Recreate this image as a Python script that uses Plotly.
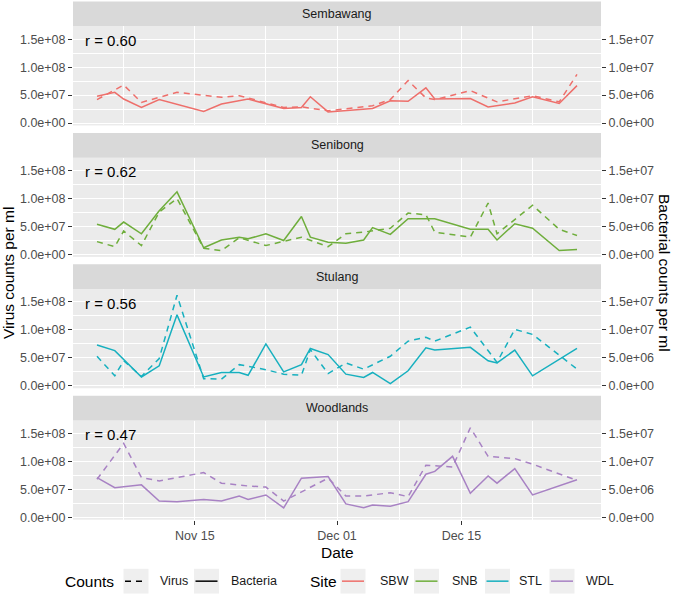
import plotly.graph_objects as go

W, H = 673, 606
YEAR = "2023"

# ---------------- data ----------------
sites = ["SBW", "SNB", "STL", "WDL"]
site_names = ["Sembawang", "Senibong", "Stulang", "Woodlands"]
site_colors = ["#EE6F6B", "#6FAE3C", "#17B0BF", "#A882C4"]
r_labels = ["r = 0.60", "r = 0.62", "r = 0.56", "r = 0.47"]

# Sembawang
sbw_bact_dates = ["11-04", "11-06", "11-07", "11-09", "11-11", "11-16", "11-18", "11-21", "11-25", "11-27",
                  "11-28", "11-30", "12-05", "12-07", "12-09", "12-11", "12-12", "12-16", "12-18", "12-21",
                  "12-23", "12-26", "12-28"]
sbw_bact = [4.8e6, 5.5e6, 4.3e6, 2.8e6, 4.2e6, 2.1e6, 3.4e6, 4.3e6, 2.6e6, 2.8e6,
            4.7e6, 2.0e6, 2.6e6, 4.0e6, 3.9e6, 6.3e6, 4.3e6, 4.4e6, 2.9e6, 3.6e6,
            4.7e6, 3.5e6, 6.7e6]
sbw_virus_dates = ["11-04", "11-07", "11-09", "11-13", "11-18", "11-20", "11-25", "11-27", "11-30", "12-05",
                   "12-07", "12-09", "12-11", "12-12", "12-16", "12-19", "12-23", "12-26", "12-28"]
sbw_virus = [4.2e7, 6.8e7, 3.7e7, 5.5e7, 4.6e7, 4.9e7, 2.8e7, 2.9e7, 2.2e7, 3.1e7,
             4.2e7, 7.6e7, 4.5e7, 4.2e7, 5.8e7, 3.8e7, 4.9e7, 3.8e7, 8.7e7]

# Senibong
snb_bact_dates = ["11-04", "11-06", "11-07", "11-09", "11-11", "11-13", "11-16", "11-18", "11-20", "11-21",
                  "11-23", "11-25", "11-27", "11-28", "11-30", "12-02", "12-04", "12-05", "12-07", "12-09",
                  "12-12", "12-16", "12-18", "12-19", "12-21", "12-23", "12-26", "12-28"]
snb_bact = [5.4e6, 4.5e6, 5.8e6, 3.7e6, 7.8e6, 11.2e6, 1.2e6, 2.6e6, 3.1e6, 2.8e6,
            3.7e6, 2.5e6, 6.8e6, 3.1e6, 2.2e6, 2.0e6, 2.6e6, 4.8e6, 3.6e6, 6.4e6,
            6.4e6, 4.5e6, 4.5e6, 2.6e6, 5.5e6, 4.7e6, 0.7e6, 0.9e6]
snb_virus_dates = ["11-04", "11-06", "11-07", "11-09", "11-11", "11-13", "11-16", "11-18", "11-20", "11-23",
                   "11-27", "11-30", "12-02", "12-04", "12-07", "12-09", "12-11", "12-12", "12-16", "12-18",
                   "12-19", "12-23", "12-26", "12-28"]
snb_virus = [2.3e7, 1.4e7, 4.2e7, 1.6e7, 7.6e7, 10.0e7, 1.1e7, 0.7e7, 3.0e7, 1.6e7,
             3.1e7, 1.4e7, 3.7e7, 4.0e7, 4.7e7, 7.4e7, 7.1e7, 4.0e7, 3.1e7, 9.2e7,
             3.7e7, 8.8e7, 4.5e7, 3.4e7]

# Stulang
stl_bact_dates = ["11-04", "11-06", "11-09", "11-11", "11-13", "11-16", "11-18", "11-20", "11-21", "11-23",
                  "11-25", "11-27", "11-28", "11-30", "12-02", "12-04", "12-05", "12-07", "12-09", "12-11",
                  "12-12", "12-16", "12-18", "12-19", "12-21", "12-23", "12-28"]
stl_bact = [7.3e6, 6.3e6, 1.6e6, 3.6e6, 12.7e6, 1.6e6, 2.4e6, 2.4e6, 1.9e6, 7.5e6,
            2.5e6, 3.8e6, 6.7e6, 5.6e6, 2.1e6, 1.5e6, 2.4e6, 0.4e6, 2.7e6, 6.8e6,
            6.4e6, 6.9e6, 4.5e6, 4.1e6, 6.4e6, 1.8e6, 6.7e6]
stl_virus_dates = ["11-04", "11-06", "11-07", "11-09", "11-11", "11-13", "11-16", "11-18", "11-20", "11-23",
                   "11-25", "11-27", "11-28", "11-30", "12-02", "12-04", "12-07", "12-09", "12-11", "12-12",
                   "12-16", "12-19", "12-21", "12-23", "12-26", "12-28"]
stl_virus = [5.3e7, 1.8e7, 4.5e7, 1.7e7, 4.9e7, 16.2e7, 1.3e7, 1.2e7, 3.8e7, 2.9e7,
             2.1e7, 1.9e7, 6.5e7, 2.2e7, 4.1e7, 3.0e7, 5.3e7, 8.0e7, 8.7e7, 8.0e7,
             10.5e7, 4.2e7, 10.1e7, 9.2e7, 5.5e7, 3.0e7]

# Woodlands
wdl_bact_dates = ["11-04", "11-06", "11-09", "11-11", "11-13", "11-16", "11-18", "11-20", "11-21", "11-23",
                  "11-25", "11-27", "11-30", "12-02", "12-04", "12-05", "12-07", "12-09", "12-11", "12-12",
                  "12-14", "12-16", "12-18", "12-19", "12-21", "12-23", "12-28"]
wdl_bact = [7.1e6, 5.3e6, 5.8e6, 2.9e6, 2.8e6, 3.2e6, 2.9e6, 3.8e6, 3.2e6, 4.0e6,
            1.7e6, 7.0e6, 7.3e6, 2.4e6, 1.7e6, 2.2e6, 2.0e6, 2.8e6, 7.7e6, 8.2e6,
            10.9e6, 4.3e6, 7.4e6, 6.1e6, 8.7e6, 4.0e6, 6.7e6]
wdl_virus_dates = ["11-04", "11-07", "11-09", "11-11", "11-16", "11-18", "11-21", "11-23", "11-25", "11-30",
                   "12-02", "12-04", "12-07", "12-09", "12-11", "12-14", "12-16", "12-18", "12-21", "12-23",
                   "12-28"]
wdl_virus = [6.8e7, 13.2e7, 7.1e7, 6.5e7, 8.0e7, 6.1e7, 5.6e7, 5.4e7, 2.9e7, 7.0e7,
             3.8e7, 3.8e7, 4.4e7, 3.7e7, 9.3e7, 9.0e7, 16.0e7, 10.9e7, 10.5e7, 9.5e7,
             6.6e7]

virus_dates = [sbw_virus_dates, snb_virus_dates, stl_virus_dates, wdl_virus_dates]
virus_vals = [sbw_virus, snb_virus, stl_virus, wdl_virus]
bact_dates = [sbw_bact_dates, snb_bact_dates, stl_bact_dates, wdl_bact_dates]
bact_vals = [sbw_bact, snb_bact, stl_bact, wdl_bact]

left_ticks = [0, 5e7, 1e8, 1.5e8]
left_ticktext = ["0.0e+00", "5.0e+07", "1.0e+08", "1.5e+08"]
right_ticks = [0, 5e6, 1e7, 1.5e7]
right_ticktext = ["0.0e+00", "5.0e+06", "1.0e+07", "1.5e+07"]
x_ticks = ["11-15", "12-01", "12-15"]
x_ticktext = ["Nov 15", "Dec 01", "Dec 15"]
x_minor = ["11-07", "11-23", "12-08", "12-23"]

# ---------------- layout constants ----------------
XL, XR = 73, 601
STRIP_H = 25
PLOT_H = 100
GAP = 7.5
FIRST_STRIP_TOP = 1.5
PANEL_TOPS = [FIRST_STRIP_TOP + STRIP_H + k * (STRIP_H + PLOT_H + GAP) for k in range(4)]
Y_RANGE = [-4.2e6, 1.73e8]
X_RANGE = [f"{YEAR}-11-01 07:12", f"{YEAR}-12-30 16:48"]
FONT = "Liberation Sans, Arial, Helvetica, sans-serif"
TICK_C = "#4D4D4D"
LINE_W = 1.5
DASH = "6px,5px"


def d(md):
    return f"{YEAR}-{md}"


def fy(px):
    return 1 - px / H


def fx(px):
    return px / W


fig = go.Figure()
layout = dict(
    width=W, height=H,
    margin=dict(l=0, r=0, t=0, b=0),
    paper_bgcolor="white", plot_bgcolor="#EBEBEB",
    showlegend=False,
    font=dict(family=FONT, color="#1A1A1A"),
)
shapes, annotations = [], []

for i in range(4):
    xa = "x" if i == 0 else f"x{i+1}"
    ya = "y" if i == 0 else f"y{i+1}"
    yr = f"y{i+5}"
    top = PANEL_TOPS[i]
    bot = top + PLOT_H
    col = site_colors[i]

    fig.add_trace(go.Scatter(
        x=[d(v) for v in virus_dates[i]], y=virus_vals[i], mode="lines",
        line=dict(color=col, width=LINE_W, dash=DASH),
        xaxis=xa, yaxis=ya, name=f"{sites[i]} Virus", hoverinfo="skip"))
    fig.add_trace(go.Scatter(
        x=[d(v) for v in bact_dates[i]], y=bact_vals[i], mode="lines",
        line=dict(color=col, width=LINE_W),
        xaxis=xa, yaxis=yr, name=f"{sites[i]} Bacteria", hoverinfo="skip"))

    last = i == 3
    layout["xaxis" if i == 0 else f"xaxis{i+1}"] = dict(
        domain=[fx(XL), fx(XR)], anchor=ya, type="date", range=X_RANGE,
        tickmode="array", tickvals=[d(v) for v in x_ticks], ticktext=x_ticktext,
        showticklabels=last, ticks="outside" if last else "", ticklen=4,
        tickcolor="#333333", tickwidth=1,
        tickfont=dict(size=12.5, color=TICK_C, family=FONT),
        showgrid=True, gridcolor="white", gridwidth=1.4, zeroline=False,
        showline=False,
        minor=dict(tickmode="array", tickvals=[d(v) for v in x_minor],
                   showgrid=True, gridcolor="white", gridwidth=0.7, ticks=""),
    )
    layout["yaxis" if i == 0 else f"yaxis{i+1}"] = dict(
        domain=[fy(bot), fy(top)], anchor=xa, range=Y_RANGE,
        tickmode="array", tickvals=left_ticks, ticktext=left_ticktext,
        ticks="outside", ticklen=4, tickcolor="#333333", tickwidth=1,
        tickfont=dict(size=12.5, color=TICK_C, family=FONT),
        showgrid=True, gridcolor="white", gridwidth=1.4, zeroline=False,
        showline=False,
        minor=dict(tickmode="array", tickvals=[2.5e7, 7.5e7, 1.25e8],
                   showgrid=True, gridcolor="white", gridwidth=0.7, ticks=""),
    )
    layout[f"yaxis{i+5}"] = dict(
        overlaying=ya, side="right", anchor=xa,
        range=[Y_RANGE[0] / 10, Y_RANGE[1] / 10],
        tickmode="array", tickvals=right_ticks, ticktext=right_ticktext,
        ticks="outside", ticklen=4, tickcolor="#333333", tickwidth=1,
        tickfont=dict(size=12.5, color=TICK_C, family=FONT),
        showgrid=False, zeroline=False, showline=False,
    )

    # facet strip
    shapes.append(dict(type="rect", xref="paper", yref="paper",
                       x0=fx(XL), x1=fx(XR), y0=fy(top), y1=fy(top - STRIP_H),
                       fillcolor="#D9D9D9", line=dict(width=0), layer="below"))
    annotations.append(dict(text=site_names[i], xref="paper", yref="paper",
                            x=fx((XL + XR) / 2), y=fy(top - STRIP_H / 2),
                            showarrow=False, xanchor="center", yanchor="middle",
                            font=dict(size=12.5, color="#1A1A1A", family=FONT)))
    # correlation label
    annotations.append(dict(text=r_labels[i], xref="paper", yref=ya,
                            x=fx(83), y=1.48e8, showarrow=False,
                            xanchor="left", yanchor="middle",
                            font=dict(size=15, color="black", family=FONT)))

# axis titles
mid_y = (PANEL_TOPS[0] + PANEL_TOPS[3] + PLOT_H) / 2
annotations.append(dict(text="Virus counts per ml", xref="paper", yref="paper",
                        x=fx(9), y=fy(mid_y), textangle=-90, showarrow=False,
                        xanchor="center", yanchor="middle",
                        font=dict(size=15.5, color="black", family=FONT)))
annotations.append(dict(text="Bacterial counts per ml", xref="paper", yref="paper",
                        x=fx(664), y=fy(mid_y), textangle=90, showarrow=False,
                        xanchor="center", yanchor="middle",
                        font=dict(size=15.5, color="black", family=FONT)))
annotations.append(dict(text="Date", xref="paper", yref="paper",
                        x=fx((XL + XR) / 2), y=fy(557), showarrow=False,
                        xanchor="center", yanchor="middle",
                        font=dict(size=15.5, color="black", family=FONT)))

# legend (drawn by hand, ggplot style)
LC = 586
KEY = 25
legend_titles = [("Counts", 62.5), ("Site", 307.5)]
legend_items = [  # (key x0, label x, label, color, dashed)
    (123.5, 157.5, "Virus", "black", True),
    (194, 228.5, "Bacteria", "black", False),
    (340.5, 377.5, "SBW", site_colors[0], False),
    (414, 449.5, "SNB", site_colors[1], False),
    (485, 517, "STL", site_colors[2], False),
    (549.5, 584, "WDL", site_colors[3], False),
]
for t, x in legend_titles:
    annotations.append(dict(text=t, xref="paper", yref="paper", x=fx(x), y=fy(LC),
                            showarrow=False, xanchor="left", yanchor="middle",
                            font=dict(size=15.5, color="black", family=FONT)))
for kx, lx, lab, c, dashed in legend_items:
    shapes.append(dict(type="rect", xref="paper", yref="paper",
                       x0=fx(kx), x1=fx(kx + KEY), y0=fy(LC + KEY / 2), y1=fy(LC - KEY / 2),
                       fillcolor="#EFEFEF", line=dict(width=0)))
    shapes.append(dict(type="line", xref="paper", yref="paper",
                       x0=fx(kx + 1.5), x1=fx(kx + KEY - 1.5), y0=fy(LC), y1=fy(LC),
                       line=dict(color=c, width=LINE_W, dash=DASH if dashed else "solid")))
    annotations.append(dict(text=lab, xref="paper", yref="paper", x=fx(lx), y=fy(LC),
                            showarrow=False, xanchor="left", yanchor="middle",
                            font=dict(size=12.5, color="#1A1A1A", family=FONT)))

layout["shapes"] = shapes
layout["annotations"] = annotations
fig.update_layout(**layout)
fig.write_html(
    "out.html",
    config={"displayModeBar": False},
    post_script="document.body.style.margin='0';document.body.style.overflow='hidden';"
                "document.documentElement.style.overflow='hidden';",
)
